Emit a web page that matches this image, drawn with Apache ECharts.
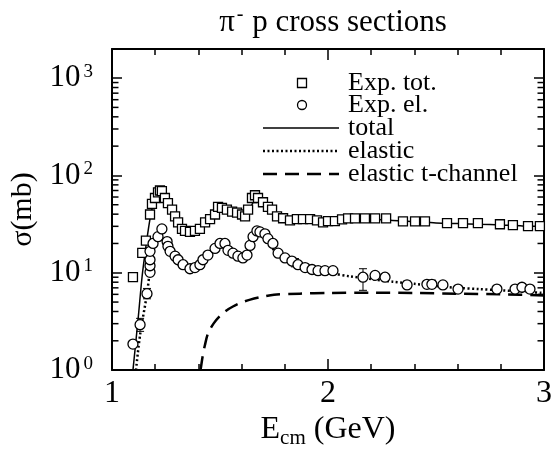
<!DOCTYPE html>
<html><head><meta charset="utf-8">
<script src="https://cdn.jsdelivr.net/npm/echarts@6/dist/echarts.min.js"></script>
<style>html,body{margin:0;padding:0;background:#fff}#c{width:560px;height:454px}</style>
</head><body><div id="c"></div>
<script>
// ---- data ----
const totE = [1.097,1.140,1.157,1.176,1.185,1.199,1.213,1.222,1.231,1.245,1.259,1.278,1.292,1.306,1.324,1.338,1.361,1.384,1.407,1.431,1.454,1.477,1.491,1.509,1.532,1.556,1.579,1.602,1.616,1.630,1.648,1.662,1.676,1.699,1.722,1.741,1.764,1.792,1.824,1.856,1.884,1.917,1.949,1.977,2.000,2.032,2.065,2.093,2.125,2.171,2.218,2.269,2.347,2.403,2.449,2.551,2.625,2.694,2.796,2.856,2.926,2.981];
const totS = [9.0,16.0,21.4,39.7,51,58.6,67,70,69,58.6,52,44.6,38,33,28.3,27,26.3,27,28.3,33,35.5,39.7,47.6,46.5,44.6,42.5,41.5,39.7,38,44.6,58.6,62.6,58.6,53,47.6,44.6,38,36.3,34.5,35.5,35.5,35.5,34.5,33,34,34,35.4,36.2,36.2,36.2,36.2,36.2,33.8,33.8,33.8,32.3,32.3,32.3,31.5,30.8,30.1,30.1];

const elE = [1.097,1.130,1.162,1.176,1.176,1.176,1.176,1.190,1.213,1.231,1.255,1.259,1.269,1.292,1.306,1.329,1.361,1.384,1.407,1.421,1.444,1.477,1.500,1.523,1.537,1.560,1.583,1.606,1.625,1.639,1.653,1.671,1.685,1.708,1.722,1.745,1.769,1.801,1.833,1.861,1.894,1.926,1.954,1.986,2.023,2.162,2.218,2.264,2.366,2.458,2.481,2.532,2.602,2.782,2.866,2.898,2.935];
const elS = [1.85,2.93,6.1,10.1,11.8,13.6,16.6,20,23.5,28.2,20.9,18.7,16.6,14.8,13.6,12.1,11.0,11.3,12.1,13.6,15.2,17.8,20,20,17,15.9,14.8,14.2,15.2,19.1,23.5,26.9,26.3,25.1,22.4,20,15.9,14.2,13.2,12.1,11.3,10.8,10.5,10.5,10.5,9.0,9.4,9.0,7.5,7.6,7.6,7.5,6.8,6.8,6.8,7.1,6.8];

// error bars on elastic data: energy, low, high
const errE  = [1.130,1.162,1.176,1.176,1.500,1.847,2.162,2.366,2.481,2.602,2.898];
const errLo = [2.5,5.4,9.5,12.5,19.0,11.5,6.6,6.9,7.1,6.4,6.6];
const errHi = [3.4,6.9,11.0,14.8,21.2,14.0,11.0,8.2,8.4,7.3,7.7];

const curveTotE = [1.097,1.120,1.139,1.153,1.165,1.180,1.195,1.210,1.225,1.240,1.260,1.280,1.300,1.330,1.360,1.390,1.420,1.450,1.480,1.500,1.520,1.550,1.580,1.610,1.640,1.660,1.680,1.700,1.720,1.750,1.780,1.820,1.860,1.900,1.950,2.000,2.100,2.200,2.300,2.400,2.500,2.600,2.700,2.800,2.900,3.000];
const curveTotS = [1.0,3.2,9.0,16,25,40,55,66,70,63,50,40,33,28,26.5,27,30.5,35,40,44,45,43,41,40,46,57,60,56,49,42,37.5,35.5,35,35,34.5,34.5,35,35.5,34.5,33.5,32.5,32,31.5,31,30.3,30];

const curveElE = [1.111,1.130,1.162,1.176,1.190,1.205,1.220,1.240,1.260,1.280,1.300,1.330,1.360,1.390,1.420,1.450,1.480,1.500,1.520,1.550,1.580,1.610,1.630,1.650,1.670,1.690,1.720,1.750,1.780,1.820,1.860,1.900,1.950,2.000,2.100,2.200,2.300,2.400,2.500,2.600,2.700,2.800,2.900,3.000];
const curveElS = [1.0,2.3,6.1,10.8,17,22,23.5,21,17,14,12.5,11,10.5,11,12.5,15,18,19.5,19.5,17.5,16,15,17,22,25.5,25,21,17,14.5,13,12,11.2,10.5,10,9.2,8.6,8.1,7.7,7.3,7.0,6.8,6.6,6.4,6.2];

const curveTE = [1.410,1.420,1.430,1.445,1.470,1.500,1.530,1.560,1.600,1.640,1.700,1.750,1.870,2.000,2.200,2.400,2.600,2.800,3.000];
const curveTS = [1.0,1.4,1.8,2.4,3.0,3.6,4.1,4.5,4.95,5.3,5.7,5.95,6.1,6.2,6.25,6.2,6.1,6.0,5.85];

const yMajorLabels = {1:'0',10:'1',100:'2',1000:'3'};
const yMinorTicks = [2,3,4,5,6,7,8,9,20,30,40,50,60,70,80,90,200,300,400,500,600,700,800,900];

const legendTexts = ['Exp. tot.','Exp. el.','total','elastic','elastic t-channel'];

// ---- chart ----
const FONT = "'Liberation Serif','Times New Roman',serif";
const zip = (a,b) => a.map((v,i)=>[v,b[i]]);
const chart = echarts.init(document.getElementById('c'), null, {renderer:'canvas'});

const axisLineStyle = {color:'#000', width:2};
const xCommon = {
  type:'value', min:1, max:3, interval:1,
  axisLine:{show:true, onZero:false, lineStyle:axisLineStyle},
  axisTick:{show:true, inside:true, length:11, lineStyle:{color:'#000', width:1.5}},
  minorTick:{show:true, splitNumber:5, length:6, lineStyle:{color:'#000', width:1.5}},
  splitLine:{show:false}, minorSplitLine:{show:false}
};
const yCommon = {
  type:'log', logBase:10, min:1, max:1990,
  axisLine:{show:true, onZero:false, lineStyle:axisLineStyle},
  axisTick:{show:true, inside:true, length:10, lineStyle:{color:'#000', width:1.5}},
  splitLine:{show:false}
};

// legend layout (pixels)
const LEG_ROWS = [83, 105, 128, 151, 174];
const LEG_SYM_X = 302, LEG_LINE_X0 = 263, LEG_LINE_X1 = 339, LEG_TEXT_X = 348, LEG_FONT = 26;
function legendGraphic(){
  const g = [];
  legendTexts.forEach((t,i)=>{
    g.push({type:'text', x:LEG_TEXT_X, y:LEG_ROWS[i], style:{text:t, font:LEG_FONT+'px '+FONT, fill:'#000', verticalAlign:'middle', align:'left'}});
  });
  g.push({type:'rect', shape:{x:LEG_SYM_X-4.5, y:LEG_ROWS[0]-4.5, width:9, height:9}, style:{fill:'#fff', stroke:'#000', lineWidth:1.3}});
  g.push({type:'circle', shape:{cx:LEG_SYM_X, cy:LEG_ROWS[1], r:4.5}, style:{fill:'#fff', stroke:'#000', lineWidth:1.3}});
  g.push({type:'line', shape:{x1:LEG_LINE_X0, y1:LEG_ROWS[2], x2:LEG_LINE_X1, y2:LEG_ROWS[2]}, style:{stroke:'#000', lineWidth:1.5}});
  g.push({type:'line', shape:{x1:LEG_LINE_X0, y1:LEG_ROWS[3], x2:LEG_LINE_X1, y2:LEG_ROWS[3]}, style:{stroke:'#000', lineWidth:2.5, lineDash:[2,2.5]}});
  g.push({type:'line', shape:{x1:LEG_LINE_X0, y1:LEG_ROWS[4], x2:LEG_LINE_X1, y2:LEG_ROWS[4]}, style:{stroke:'#000', lineWidth:2.5, lineDash:[14,8]}});
  return g;
}

const option = {
  backgroundColor:'#fff',
  animation:false,
  title:{
    text:'{a|π}{s|-}{a| p cross sections}',
    left:328, top:0, textAlign:'center',
    textStyle:{fontWeight:'normal', rich:{
      a:{fontFamily:FONT, fontSize:31, fontWeight:'normal', color:'#000', lineHeight:35},
      s:{fontFamily:FONT, fontSize:20, fontWeight:'normal', color:'#000', verticalAlign:'top', lineHeight:20, padding:[0,1,0,2]}
    }}
  },
  grid:{left:112, right:16, top:49, bottom:73, containLabel:false},
  xAxis:[
    Object.assign({}, xCommon, {
      position:'bottom',
      name:'{e|E}{c|cm}{e| (GeV)}', nameLocation:'middle', nameGap:39,
      nameTextStyle:{rich:{
        e:{fontFamily:FONT, fontSize:32, color:'#000', lineHeight:34, padding:[0,0,3,0]},
        c:{fontFamily:FONT, fontSize:21, color:'#000', lineHeight:21, verticalAlign:'bottom'}
      }},
      axisLabel:{fontFamily:FONT, fontSize:32, color:'#000', margin:7}
    }),
    Object.assign({}, xCommon, {position:'top', axisLabel:{show:false}})
  ],
  yAxis:[
    Object.assign({}, yCommon, {
      position:'left',
      name:'σ(mb)', nameLocation:'middle', nameGap:64,
      nameTextStyle:{fontFamily:FONT, fontSize:30, color:'#000'},
      axisLabel:{
        margin:19, color:'#000',
        formatter: v => (yMajorLabels[v] !== undefined ? '{b|10}{p|' + yMajorLabels[v] + '}' : ''),
        rich:{
          b:{fontFamily:FONT, fontSize:31, color:'#000', lineHeight:32, padding:[10,0,10,0]},
          p:{fontFamily:FONT, fontSize:19, color:'#000', lineHeight:19, verticalAlign:'top', padding:[0,0,0,3]}
        }
      }
    }),
    Object.assign({}, yCommon, {position:'right', axisLabel:{show:false}})
  ],
  graphic: legendGraphic(),
  series:[
    {type:'custom', xAxisIndex:0, yAxisIndex:0, silent:true, clip:false,
     data: yMinorTicks.map(v=>[2, v]),
     renderItem:(params, api)=>{
       const cs = params.coordSys;
       const y = api.coord([2, api.value(1)])[1];
       const st = {stroke:'#000', lineWidth:1.5};
       return {type:'group', children:[
         {type:'line', shape:{x1:cs.x, y1:y, x2:cs.x+6.5, y2:y}, style:st},
         {type:'line', shape:{x1:cs.x+cs.width-6.5, y1:y, x2:cs.x+cs.width, y2:y}, style:st}
       ]};
     }},
    {type:'line', name:'total', data:zip(curveTotE, curveTotS), showSymbol:false, symbol:'none', smooth:0.3,
     lineStyle:{color:'#000', width:1.5}, z:2},
    {type:'line', name:'elastic', data:zip(curveElE, curveElS), showSymbol:false, symbol:'none', smooth:0.3,
     lineStyle:{color:'#000', width:2.5, type:[2,2.5]}, z:2},
    {type:'line', name:'elastic t-channel', data:zip(curveTE, curveTS), showSymbol:false, symbol:'none', smooth:0.3,
     lineStyle:{color:'#000', width:2.5, type:[14,8]}, z:2},
    {type:'custom', name:'errors', silent:true, z:3,
     data: errE.map((e,i)=>[e, errLo[i], errHi[i]]),
     encode:{x:0, y:[1,2]},
     renderItem:(params, api)=>{
       const p1 = api.coord([api.value(0), api.value(1)]);
       const p2 = api.coord([api.value(0), api.value(2)]);
       const w = 4, st = {stroke:'#000', lineWidth:1};
       return {type:'group', children:[
         {type:'line', shape:{x1:p1[0], y1:p1[1], x2:p2[0], y2:p2[1]}, style:st},
         {type:'line', shape:{x1:p1[0]-w, y1:p1[1], x2:p1[0]+w, y2:p1[1]}, style:st},
         {type:'line', shape:{x1:p2[0]-w, y1:p2[1], x2:p2[0]+w, y2:p2[1]}, style:st}
       ]};
     }},
    {type:'scatter', name:'Exp. tot.', data:zip(totE, totS), symbol:'rect', symbolSize:9,
     itemStyle:{color:'#fff', borderColor:'#000', borderWidth:1.3, opacity:1}, z:4},
    {type:'scatter', name:'Exp. el.', data:zip(elE, elS), symbol:'circle', symbolSize:10,
     itemStyle:{color:'#fff', borderColor:'#000', borderWidth:1.3, opacity:1}, z:4}
  ]
};
chart.setOption(option);
</script>
</body></html>
